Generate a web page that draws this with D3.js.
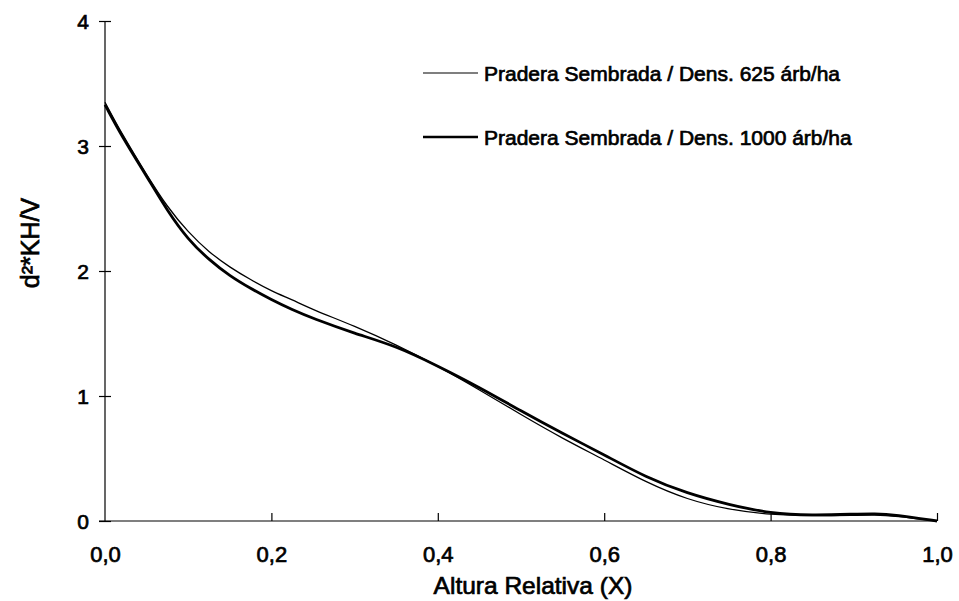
<!DOCTYPE html>
<html>
<head>
<meta charset="utf-8">
<script src="https://cdn.jsdelivr.net/npm/d3@7"></script>
<style>
  body { margin: 0; background: #fff; }
  text { font-family: "Liberation Sans", Arial, sans-serif; fill: #000; stroke: #000; stroke-width: 0.7px; }
</style>
</head>
<body>
<div id="chart"></div>
<script>
// relative height values (x) shared by both series
const alturas = [0, 0.02, 0.05, 0.075, 0.1, 0.125, 0.15, 0.175, 0.2, 0.225, 0.25, 0.3, 0.35,
  0.4, 0.45, 0.5, 0.55, 0.6, 0.65, 0.7, 0.75, 0.8, 0.85, 0.9, 0.925, 0.95, 1.0];
// d2*KH/V, density 625 trees/ha (thin line)
const dens625 = [3.35, 3.10, 2.77, 2.51, 2.31, 2.15, 2.03, 1.93, 1.84, 1.77, 1.69, 1.56, 1.41,
  1.24, 1.05, 0.85, 0.66, 0.49, 0.31, 0.17, 0.09, 0.05, 0.04, 0.045, 0.05, 0.04, 0.0];
// d2*KH/V, density 1000 trees/ha (thick line)
const dens1000 = [3.33, 3.08, 2.76, 2.48, 2.25, 2.09, 1.96, 1.86, 1.77, 1.69, 1.62, 1.50, 1.40,
  1.24, 1.07, 0.88, 0.70, 0.53, 0.35, 0.22, 0.13, 0.06, 0.045, 0.055, 0.06, 0.05, 0.0];
const xTicks = [0, 0.2, 0.4, 0.6, 0.8, 1.0];
const yTicks = [0, 1, 2, 3, 4];
const seriesNames = ['Pradera Sembrada / Dens. 625 árb/ha', 'Pradera Sembrada / Dens. 1000 árb/ha'];

const width = 959, height = 601;
const svg = d3.select('#chart').append('svg')
  .attr('width', width).attr('height', height);

//>>> scales
const x = d3.scaleLinear().domain([0, 1]).range([105, 937]);
const y = d3.scaleLinear().domain([0, 4]).range([521, 21]);

//>>> y axis
const yAxis = svg.append('g').attr('transform', `translate(${x(0)},0)`)
  .call(d3.axisLeft(y).tickValues(yTicks).tickSize(0).tickPadding(0).tickFormat(d3.format('d')));
yAxis.select('.domain').remove();
svg.append('line')
  .attr('x1', x(0)).attr('x2', x(0)).attr('y1', y(4)).attr('y2', y(0))
  .attr('stroke', '#000').attr('stroke-width', 1.2);
yAxis.selectAll('.tick').append('line')
  .attr('x1', -6).attr('x2', 6).attr('stroke', '#000').attr('stroke-width', 1.2);
yAxis.selectAll('.tick text')
  .attr('x', -16).attr('dy', '0.36em')
  .style('font-size', '21px');

//>>> x axis
const xAxis = svg.append('g').attr('transform', `translate(0,${y(0)})`)
  .call(d3.axisBottom(x).tickValues(xTicks).tickSize(0).tickPadding(0)
    .tickFormat(d => d3.format('.1f')(d).replace('.', ',')));
xAxis.select('.domain').remove();
svg.append('line')
  .attr('x1', x(0) - 6).attr('x2', x(1)).attr('y1', y(0)).attr('y2', y(0))
  .attr('stroke', '#000').attr('stroke-width', 1.2);
xAxis.selectAll('.tick').filter(d => d > 0).append('line')
  .attr('y1', 0).attr('y2', -8).attr('stroke', '#000').attr('stroke-width', 1.2);
xAxis.selectAll('.tick text')
  .attr('y', 41).attr('dy', 0)
  .style('font-size', '22px');

//>>> curves
const line = d3.line()
  .x((d, i) => x(alturas[i]))
  .y(d => y(d))
  .curve(d3.curveBasis);

svg.append('path').datum(dens625)
  .attr('d', line).attr('fill', 'none')
  .attr('stroke', '#000').attr('stroke-width', 1.3);
svg.append('path').datum(dens1000)
  .attr('d', line).attr('fill', 'none')
  .attr('stroke', '#000').attr('stroke-width', 2.8);

//>>> legend
const legend = svg.append('g');
const legendRows = legend.selectAll('g').data(seriesNames).enter().append('g')
  .attr('transform', (d, i) => `translate(423,${73 + i * 64})`);
legendRows.append('line')
  .attr('x1', 0).attr('x2', 55)
  .attr('stroke', '#000').attr('stroke-width', (d, i) => i === 0 ? 1.2 : 2.6);
legendRows.append('text')
  .attr('x', 61).attr('dy', '0.36em')
  .style('font-size', '21px')
  .text(d => d);

//>>> axis titles
svg.append('text')
  .attr('x', 533).attr('y', 594)
  .attr('text-anchor', 'middle')
  .style('font-size', '24.5px')
  .text('Altura Relativa (X)');
svg.append('text')
  .attr('transform', 'translate(39,243) rotate(-90)')
  .attr('text-anchor', 'middle')
  .style('font-size', '25px')
  .text('d²*KH/V');
</script>
</body>
</html>
